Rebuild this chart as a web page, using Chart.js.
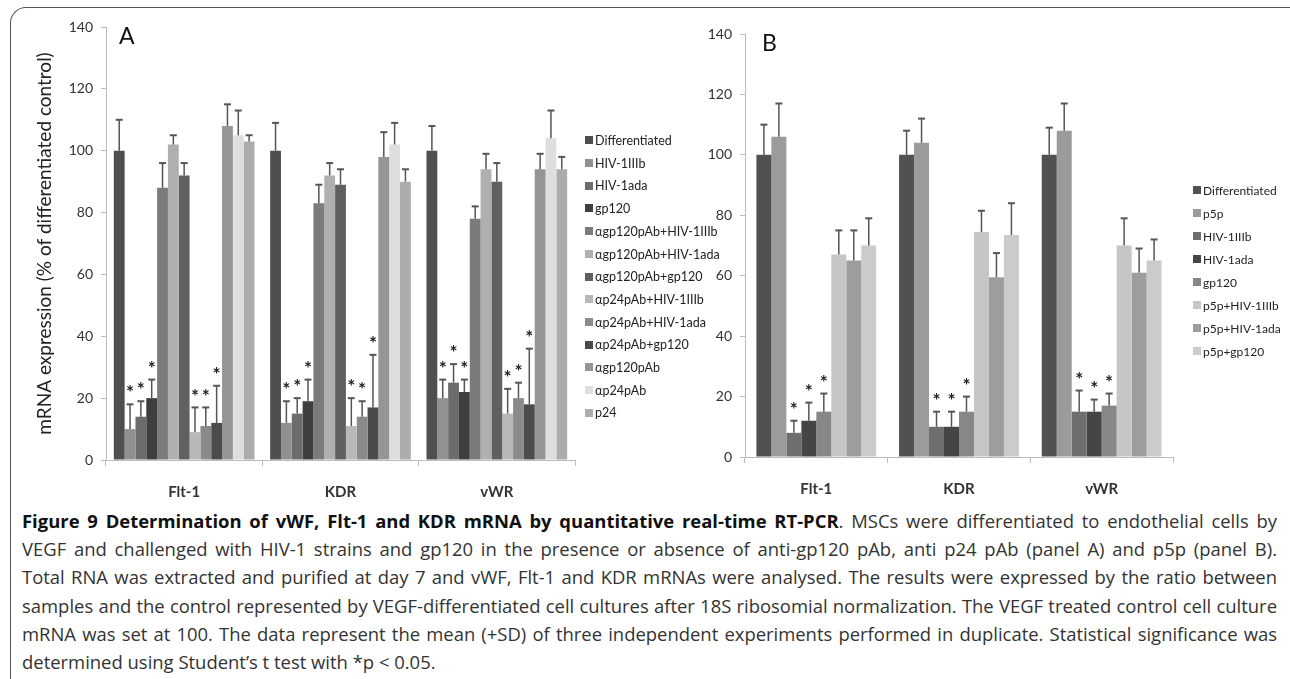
<!DOCTYPE html>
<html>
<head>
<meta charset="utf-8">
<script src="https://cdn.jsdelivr.net/npm/chart.js"></script>
<style>
  body { margin: 0; background: #fff; width: 1290px; height: 679px; overflow: hidden; position: relative; font-family: Lato, sans-serif; }
  #frame { position: absolute; left: 10px; top: 7px; width: 1300px; height: 700px; border-top: 1px solid #555; border-left: 1px solid #555; border-top-left-radius: 16px; }
  canvas { position: absolute; top: 0; }
  #chartA { left: 0; }
  #chartB { left: 640px; }
  .panel { position: absolute; font-size: 23px; color: #111; }
  .legend { position: absolute; color: #222; }
  .legend div { position: relative; padding-left: 10px; white-space: nowrap; }
  .legend span { position: absolute; left: 0; top: 50%; width: 8px; height: 8px; margin-top: -5px; }
  #caption { position: absolute; left: 22px; top: 507px; width: 1255px; font-family: "Open Sans", sans-serif; font-size: 16px; line-height: 28.2px; color: #333; }
  #caption div { text-align: justify; text-align-last: justify; }
  #caption div.last { text-align-last: left; }
  #caption.measure div { text-align-last: left; white-space: nowrap; }
  #caption b { color: #111; }
</style>
</head>
<body>
<div id="frame"></div>
<canvas id="chartA" width="600" height="505"></canvas>
<canvas id="chartB" width="560" height="505"></canvas>
<div class="panel" style="left:119px; top:21px;">A</div>
<div class="panel" style="left:762px; top:28px;">B</div>
<div class="legend" id="legendA" style="left:585px; top:130px; font-size:12.5px; line-height:22.7px;"></div>
<div class="legend" id="legendB" style="left:1193px; top:179px; font-size:12px; line-height:23px;"></div>
<div id="caption">
  <div><b>Figure 9 Determination of vWF, Flt-1 and KDR mRNA by quantitative real-time RT-PCR</b>. MSCs were differentiated to endothelial cells by</div>
  <div>VEGF and challenged with HIV-1 strains and gp120 in the presence or absence of anti-gp120 pAb, anti p24 pAb (panel A) and p5p (panel B).</div>
  <div>Total RNA was extracted and purified at day 7 and vWF, Flt-1 and KDR mRNAs were analysed. The results were expressed by the ratio between</div>
  <div>samples and the control represented by VEGF-differentiated cell cultures after 18S ribosomial normalization. The VEGF treated control cell culture</div>
  <div>mRNA was set at 100. The data represent the mean (+SD) of three independent experiments performed in duplicate. Statistical significance was</div>
  <div class="last">determined using Student’s t test with *p &lt; 0.05.</div>
</div>
<script>
// panel A
var genesA = ["Flt-1", "KDR", "vWR"];
var seriesA = ["Differentiated", "HIV-1IIIb", "HIV-1ada", "gp120", "αgp120pAb+HIV-1IIIb", "αgp120pAb+HIV-1ada",
  "αgp120pAb+gp120", "αp24pAb+HIV-1IIIb", "αp24pAb+HIV-1ada", "αp24pAb+gp120", "αgp120pAb", "αp24pAb", "p24"];
var fltA = [100, 10, 14, 20, 88, 102, 92, 9, 11, 12, 108, 105, 103];
var kdrA = [100, 12, 15, 19, 83, 92, 89, 11, 14, 17, 98, 102, 90];
var vwrA = [100, 20, 25, 22, 78, 94, 90, 15, 20, 18, 94, 104, 94];
var fltA_sd = [10, 8, 5, 6, 8, 3, 4, 8, 6, 12, 7, 8, 2];
var kdrA_sd = [9, 7, 5, 7, 6, 4, 5, 9, 5, 17, 8, 7, 4];
var vwrA_sd = [8, 6, 6, 4, 4, 5, 6, 8, 5, 18, 5, 9, 4];
var starsA = [1, 2, 3, 7, 8, 9];

// panel B
var genesB = ["Flt-1", "KDR", "vWR"];
var seriesB = ["Differentiated", "p5p", "HIV-1IIIb", "HIV-1ada", "gp120", "p5p+HIV-1IIIb", "p5p+HIV-1ada", "p5p+gp120"];
var fltB = [100, 106, 8, 12, 15, 67, 65, 70];
var kdrB = [100, 104, 10, 10, 15, 74.5, 59.5, 73.5];
var vwrB = [100, 108, 15, 15, 17, 70, 61, 65];
var fltB_sd = [10, 11, 4, 6, 6, 8, 10, 9];
var kdrB_sd = [8, 8, 5, 5, 5, 7, 8, 10.5];
var vwrB_sd = [9, 9, 7, 4, 4, 9, 8, 7];
var starsB = [2, 3, 4];

var yTicks = [0, 20, 40, 60, 80, 100, 120, 140];

var colorsA = ["#4f4f4f", "#919191", "#6c6c6c", "#3e3e3e", "#7b7b7b", "#b0b0b0", "#606060",
  "#b8b8b8", "#8a8a8a", "#4b4b4b", "#959595", "#dedede", "#acacac"];
var colorsB = ["#515151", "#9b9b9b", "#6e6e6e", "#454545", "#878787", "#c6c6c6", "#9d9d9d", "#cbcbcb"];

function makeSets(names, cols, groups, sds, stars) {
  var sets = [];
  for (var i = 0; i < names.length; i++) {
    sets.push({
      label: names[i],
      data: groups.map(function (g) { return g[i]; }),
      sd: sds.map(function (s) { return s[i]; }),
      star: stars.indexOf(i) >= 0,
      backgroundColor: cols[i],
      borderWidth: 0
    });
  }
  return sets;
}

function makeLegend(id, names, cols) {
  var el = document.getElementById(id);
  for (var i = 0; i < names.length; i++) {
    var row = document.createElement("div");
    row.innerHTML = '<span style="background:' + cols[i] + '"></span>' + names[i];
    el.appendChild(row);
  }
}

var errorBars = {
  id: "errorBars",
  afterDatasetsDraw: function (chart) {
    var ctx = chart.ctx;
    var y = chart.scales.y;
    ctx.save();
    chart.data.datasets.forEach(function (ds, i) {
      var meta = chart.getDatasetMeta(i);
      meta.data.forEach(function (bar, j) {
        var top = y.getPixelForValue(ds.data[j] + ds.sd[j]);
        ctx.strokeStyle = "#555";
        ctx.lineWidth = 1.5;
        ctx.beginPath();
        ctx.moveTo(bar.x, bar.y);
        ctx.lineTo(bar.x, top);
        ctx.stroke();
        ctx.lineWidth = 2;
        ctx.beginPath();
        ctx.moveTo(bar.x - 3.5, top);
        ctx.lineTo(bar.x + 3.5, top);
        ctx.stroke();
        if (ds.star) {
          ctx.fillStyle = "#222";
          ctx.font = "bold 19px Lato";
          ctx.textAlign = "center";
          ctx.textBaseline = "middle";
          ctx.fillText("*", bar.x, top - 11);
        }
      });
    });
    ctx.restore();
  }
};

function makeOptions(padTop, padRight, yWidth, xHeight, yTitle) {
  return {
    responsive: false,
    animation: false,
    layout: { padding: { top: padTop, right: padRight, left: 0, bottom: 0 } },
    plugins: { legend: { display: false }, tooltip: { enabled: false } },
    datasets: { bar: { categoryPercentage: 0.9, barPercentage: 1.0 } },
    scales: {
      x: {
        grid: { drawOnChartArea: false, offset: true, tickLength: 6, color: "#bbb" },
        border: { color: "#bbb" },
        ticks: { font: { family: "Lato", size: 15, weight: "bold" }, color: "#333", padding: 17 },
        afterFit: function (s) { s.height = xHeight; }
      },
      y: {
        min: 0,
        max: 140,
        afterBuildTicks: function (s) { s.ticks = yTicks.map(function (v) { return { value: v }; }); },
        grid: { drawOnChartArea: false, tickLength: 5, color: "#bbb" },
        border: { color: "#bbb" },
        ticks: { font: { family: "Lato", size: 14 }, color: "#333", padding: 8 },
        title: { display: !!yTitle, text: yTitle, font: { family: "Lato", size: 19 }, color: "#222", padding: { top: 33 } },
        afterFit: function (s) { s.width = yWidth; }
      }
    }
  };
}

new Chart(document.getElementById("chartA"), {
  type: "bar",
  data: { labels: genesA, datasets: makeSets(seriesA, colorsA, [fltA, kdrA, vwrA], [fltA_sd, kdrA_sd, vwrA_sd], starsA) },
  options: makeOptions(27, 25, 106, 45, "mRNA expression (% of differentiated control)"),
  plugins: [errorBars]
});

var optB = makeOptions(34, 27, 105, 48, "");
optB.datasets.bar.categoryPercentage = 0.84;
new Chart(document.getElementById("chartB"), {
  type: "bar",
  data: { labels: genesB, datasets: makeSets(seriesB, colorsB, [fltB, kdrB, vwrB], [fltB_sd, kdrB_sd, vwrB_sd], starsB) },
  options: optB,
  plugins: [errorBars]
});

makeLegend("legendA", seriesA, colorsA);
makeLegend("legendB", seriesB, colorsB);

// size the caption so that its longest line just fills the width
var cap = document.getElementById("caption");
cap.classList.add("measure");
var widest = 0;
cap.querySelectorAll("div").forEach(function (d) {
  var r = document.createRange();
  r.selectNodeContents(d);
  widest = Math.max(widest, r.getBoundingClientRect().width);
});
cap.style.fontSize = (16 * 1248 / widest).toFixed(2) + "px";
cap.classList.remove("measure");
</script>
</body>
</html>
